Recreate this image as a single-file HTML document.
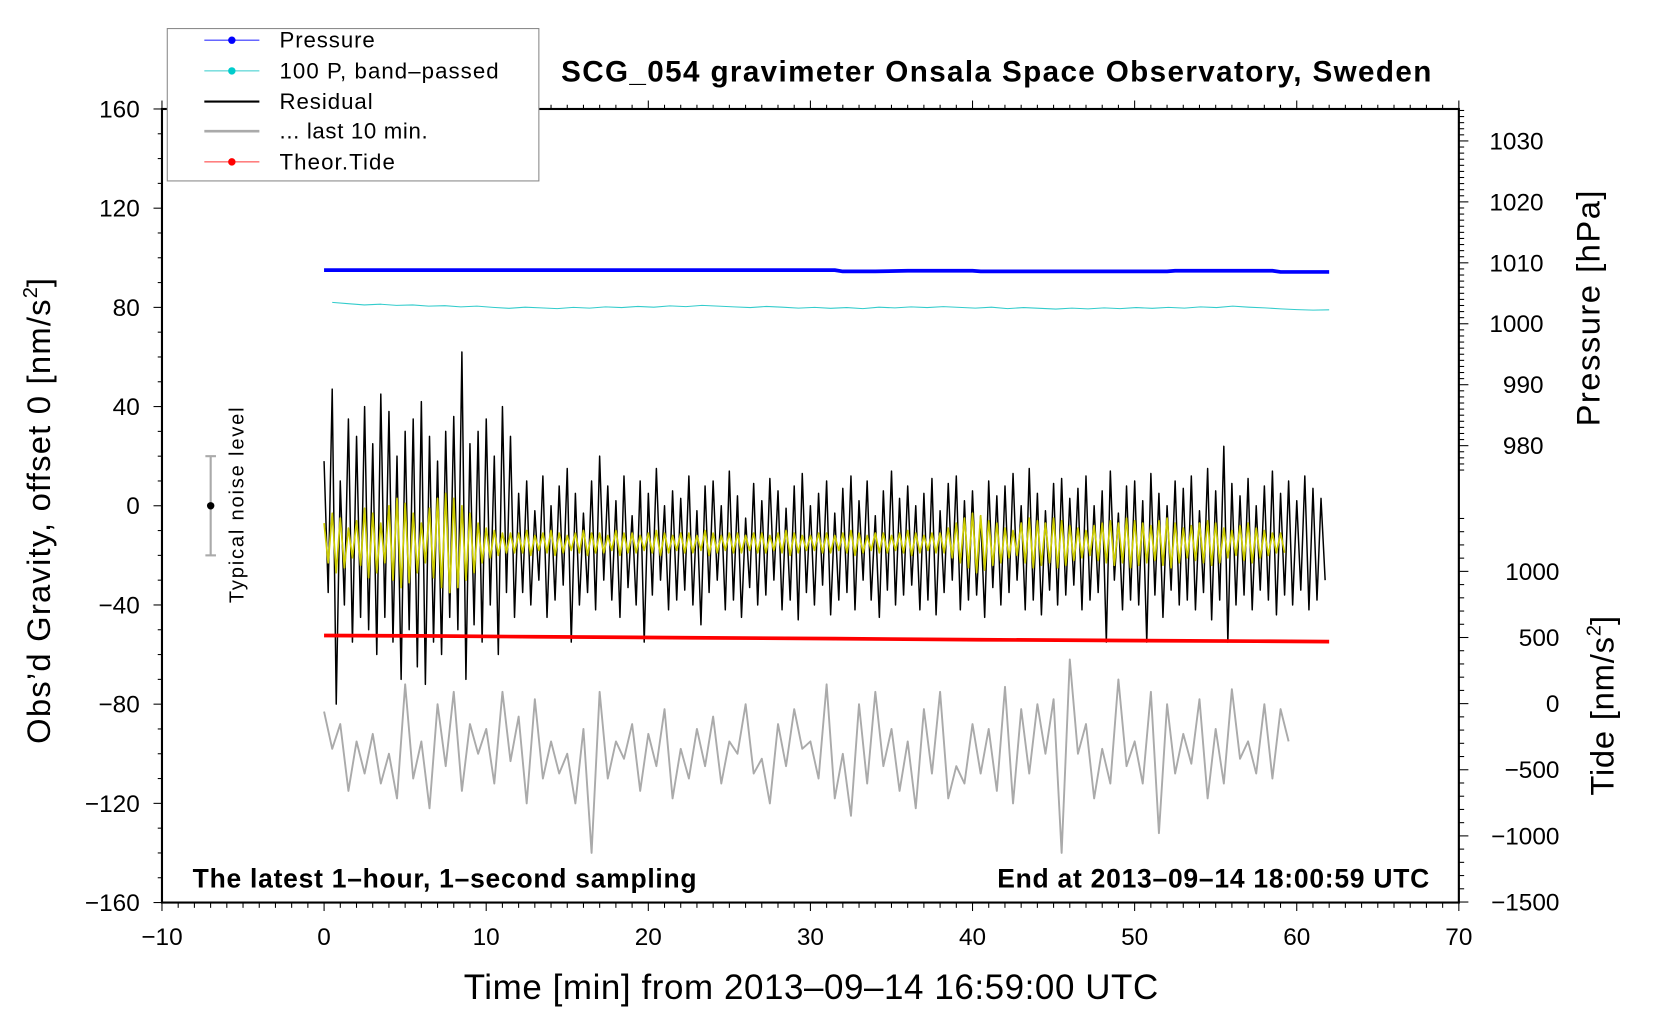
<!DOCTYPE html>
<html><head><meta charset="utf-8"><style>
html,body{margin:0;padding:0;background:#fff;}
svg{display:block;font-family:"Liberation Sans",sans-serif;}
</style></head><body>
<svg id="chart" width="1660" height="1020" viewBox="0 0 1568 964" preserveAspectRatio="none" xmlns="http://www.w3.org/2000/svg">
<rect x="0" y="0" width="1568" height="964" fill="#fff"/>
<g id="marks"></g>
<g id="axes"></g>
<g>
<rect x="158" y="27" width="351" height="144" fill="#fff" stroke="#888" stroke-width="1"/>
<line x1="193" y1="38" x2="245" y2="38" stroke="#3333ff" stroke-width="1"/><circle cx="219" cy="38" r="3.5" fill="#0000ff"/>
<text x="264" y="45" font-size="21" textLength="90">Pressure</text>
<line x1="193" y1="67" x2="245" y2="67" stroke="#33cccc" stroke-width="1"/><circle cx="219" cy="67" r="3.5" fill="#00cccc"/>
<text x="264" y="74" font-size="21" textLength="207">100 P, band–passed</text>
<line x1="193" y1="96" x2="245" y2="96" stroke="#000" stroke-width="2"/>
<text x="264" y="103" font-size="21" textLength="88">Residual</text>
<line x1="193" y1="124" x2="245" y2="124" stroke="#aaa" stroke-width="2.5"/>
<text x="264" y="131" font-size="21" textLength="140">... last 10 min.</text>
<line x1="193" y1="153" x2="245" y2="153" stroke="#ff3333" stroke-width="1"/><circle cx="219" cy="153" r="3.5" fill="#ff0000"/>
<text x="264" y="160" font-size="21" textLength="109">Theor.Tide</text>
</g>
<text x="530" y="77" font-size="28" font-weight="bold" textLength="822">SCG_054 gravimeter Onsala Space Observatory, Sweden</text>
<text x="182" y="839" font-size="25" font-weight="bold" textLength="476">The latest 1–hour, 1–second sampling</text>
<text x="942" y="839" font-size="25" font-weight="bold" textLength="408">End at 2013–09–14 18:00:59 UTC</text>
<text x="438" y="944" font-size="33" textLength="656">Time [min] from 2013–09–14 16:59:00 UTC</text>
<text transform="translate(47,703) rotate(-90)" font-size="31"><tspan textLength="420">Obs’d Gravity, offset 0 [nm/s</tspan><tspan font-size="19" dy="-12">2</tspan><tspan dy="12">]</tspan></text>
<text transform="translate(1511,403) rotate(-90)" font-size="31" textLength="223">Pressure [hPa]</text>
<text transform="translate(1524,752) rotate(-90)" font-size="31"><tspan textLength="150">Tide [nm/s</tspan><tspan font-size="19" dy="-12">2</tspan><tspan dy="12">]</tspan></text>
<g>
<line id="nbar" stroke="#aaa" stroke-width="2"/>
<line id="ncap1" stroke="#aaa" stroke-width="2"/>
<line id="ncap2" stroke="#aaa" stroke-width="2"/>
<circle id="ndot" r="3.5" fill="#000"/>
<text transform="translate(230,570) rotate(-90)" font-size="19" textLength="185">Typical noise level</text>
</g>
</svg>
<script>
const xTicks=[-10,0,10,20,30,40,50,60,70];
const yTicks=[160,120,80,40,0,-40,-80,-120,-160];
const pTicks=[1030,1020,1010,1000,990,980];
const tTicks=[1000,500,0,-500,-1000,-1500];
const pressureT=[0,4,8,12,16,20,24,28,31.5,32,34,36,38,40,40.5,44,48,52,52.5,56,58.5,59,62];
const pressureV=[1008.8,1008.8,1008.8,1008.8,1008.8,1008.8,1008.8,1008.8,1008.8,1008.6,1008.6,1008.7,1008.7,1008.7,1008.6,1008.6,1008.6,1008.6,1008.7,1008.7,1008.7,1008.5,1008.5];
const bandV=[82,81.5,81,81.3,80.8,81,80.5,80.7,80.2,80.5,80,79.6,80.1,79.8,79.5,80,79.7,80.2,79.9,80.4,80.1,80.6,80.3,80.8,80.5,80.2,79.9,80.4,80.1,79.7,80,79.6,79.9,79.5,80.1,79.8,80.2,79.9,80.3,80,79.7,80.1,79.5,79.9,79.6,79.3,79.7,79.4,79.8,79.5,79.9,79.6,80,79.7,80.2,79.9,80.5,80.1,79.8,79.4,79.1,78.9,79.0];
const tideT=[0,6,13,22.5,31.5,40.5,49,57.5,62];
const tideV=[-52.3,-52.5,-52.8,-53.2,-53.6,-54.0,-54.3,-54.6,-54.8];
const resHi=[18,47,10,35,28,40,25,45,38,20,30,35,42,28,18,30,36,62,25,30,35,20,40,28,
5,10,-2,12,0,8,15,5,-3,10,20,8,2,12,-4,10,5,15,0,6,3,12,-2,8,10,0,14,4,-5,9,2,11,6,-1,8,13,0,5,10,-3,7,12,2,10,-4,6,14,3,8,0,5,11,-2,9,12,2,6,-4,10,4,8,13,0,15,5,-2,9,11,3,7,12,0,6,14,-3,8,10,2,13,5,0,10,7,12,-2,15,6,24,9,4,11,0,8,14,5,10,2,12,7,3];
const resLo=[-35,-80,-40,-55,-45,-50,-60,-45,-55,-70,-50,-65,-72,-55,-60,-45,-50,-70,-48,-55,-40,-60,-35,-45,
-35,-40,-30,-45,-38,-32,-55,-40,-35,-42,-30,-38,-45,-33,-40,-55,-36,-30,-42,-38,-34,-40,-48,-35,-30,-42,-38,-45,-33,-40,-36,-30,-42,-38,-46,-35,-40,-32,-44,-38,-35,-42,-30,-38,-45,-34,-40,-36,-32,-42,-38,-44,-35,-30,-42,-38,-36,-45,-33,-40,-35,-30,-42,-38,-44,-34,-40,-36,-32,-42,-38,-35,-55,-30,-42,-38,-40,-55,-36,-45,-34,-40,-38,-42,-35,-46,-38,-55,-40,-36,-42,-34,-38,-44,-36,-40,-34,-42,-38,-30];
const yelAmp=[8,12,10,6,9,14,12,8,15,18,16,12,8,14,18,20,18,15,12,8,6,5,4,4,
4,5,3,4,5,4,3,4,5,4,4,3,5,4,4,3,4,5,4,3,4,4,3,5,4,3,4,4,3,4,4,3,4,5,4,3,3,4,4,3,4,5,4,3,4,4,3,4,5,4,3,4,4,6,8,10,12,11,9,8,6,5,8,10,9,8,10,9,7,6,5,7,8,9,8,10,9,8,7,9,10,8,6,7,8,9,8,6,5,7,8,6,5,4,4];
const grayV=[-83,-98,-88,-115,-95,-108,-92,-112,-100,-118,-72,-110,-95,-122,-80,-105,-75,-115,-88,-100,-90,-112,-75,-103,-85,-120,-78,-110,-95,-108,-100,-120,-90,-140,-75,-110,-95,-102,-88,-115,-92,-105,-82,-118,-98,-110,-90,-105,-85,-112,-95,-100,-80,-108,-102,-120,-88,-105,-82,-98,-95,-110,-72,-118,-100,-125,-80,-112,-75,-105,-90,-115,-95,-122,-82,-108,-75,-118,-105,-112,-88,-108,-90,-115,-73,-120,-82,-108,-80,-100,-78,-140,-62,-100,-88,-118,-98,-112,-70,-105,-95,-112,-75,-132,-80,-108,-92,-104,-78,-118,-90,-112,-74,-102,-95,-108,-80,-110,-82,-95];

const L=153,R=1378,T=103,B=853;
const xs=v=>L+(v+10)/80*(R-L);
const ys=v=>T+(160-v)/320*(B-T);
const ps=v=>306-(v-1000)*5.76;
const ts=v=>665-v*0.125;
const NS='http://www.w3.org/2000/svg';
const marks=document.getElementById('marks'), axes=document.getElementById('axes');
function mk(parent,tag,attrs){const e=document.createElementNS(NS,tag);for(const k in attrs)e.setAttribute(k,attrs[k]);parent.appendChild(e);return e;}
function poly(pts,color,w,name){const e=mk(marks,'polyline',{points:pts.map(p=>p[0].toFixed(1)+','+p[1].toFixed(1)).join(' '),fill:'none',stroke:color,'stroke-width':w,'stroke-linejoin':'round'});

}

let g=[];grayV.forEach((v,i)=>g.push([xs(i*0.5),ys(v)]));poly(g,'#aaaaaa',1.8,'last-10-min-line');
let r=[];const n=Math.min(resHi.length,resLo.length);for(let i=0;i<n;i++){r.push([xs(i*0.5),ys(resHi[i])]);r.push([xs(i*0.5+0.25),ys(resLo[i])]);}
poly(r,'#000',1.4,'residual-line');
let y=[];yelAmp.forEach((a,i)=>{y.push([xs(i*0.5),ys(-15+a)]);y.push([xs(i*0.5+0.25),ys(-15-a)]);});poly(y,'#cccc00',1.6,'residual-filtered-line');
poly(tideT.map((t,i)=>[xs(t),ys(tideV[i])]),'#ff0000',3.5,'theor-tide-line');
poly(pressureT.map((t,i)=>[xs(t),ps(pressureV[i])]),'#0000ff',3.5,'pressure-line');
poly(bandV.map((v,i)=>[xs(0.5+i*(61.5/(bandV.length-1))),ys(v)]),'#33cccc',1,'band-passed-pressure-line');

const fr=mk(axes,'rect',{x:L,y:T,width:R-L,height:B-T,fill:'none',stroke:'#000','stroke-width':2});


for(let m=-10;m<=70;m++){const major=m%10===0;const x=xs(m);
mk(axes,'line',{x1:x,y1:B,x2:x,y2:B+(major?8:5),stroke:'#000','stroke-width':1});
mk(axes,'line',{x1:x,y1:T,x2:x,y2:T-(major?8:4),stroke:'#000','stroke-width':1});}
xTicks.forEach(v=>{const t=mk(axes,'text',{x:xs(v),y:893,'font-size':23,'text-anchor':'middle'});t.textContent=(v<0?'−':'')+Math.abs(v);

});
for(let v=-160;v<=160;v+=10){const major=v%40===0;mk(axes,'line',{x1:L,y1:ys(v),x2:L-(major?8:4),y2:ys(v),stroke:'#000','stroke-width':1});}
yTicks.forEach(v=>{const t=mk(axes,'text',{x:132,y:ys(v)+8,'font-size':23,'text-anchor':'end'});t.textContent=(v<0?'−':'')+Math.abs(v);

});
for(let p=976;p<=1035;p++){const major=p%10===0;mk(axes,'line',{x1:R,y1:ps(p),x2:R+(major?9:5),y2:ps(p),stroke:'#000','stroke-width':1});}
pTicks.forEach(v=>{const t=mk(axes,'text',{x:1458,y:ps(v)+8,'font-size':23,'text-anchor':'end'});t.textContent=v;

});
for(let v=-1500;v<=1400;v+=100){const major=v%500===0;mk(axes,'line',{x1:R,y1:ts(v),x2:R+(major?9:5),y2:ts(v),stroke:'#000','stroke-width':1});}
tTicks.forEach(v=>{const t=mk(axes,'text',{x:1473,y:ts(v)+8,'font-size':23,'text-anchor':'end'});t.textContent=(v<0?'−':'')+Math.abs(v);

});
const nb=document.getElementById('nbar');nb.setAttribute('x1',199);nb.setAttribute('x2',199);nb.setAttribute('y1',ys(20));nb.setAttribute('y2',ys(-20));
const c1=document.getElementById('ncap1');c1.setAttribute('x1',194);c1.setAttribute('x2',204);c1.setAttribute('y1',ys(20));c1.setAttribute('y2',ys(20));
const c2=document.getElementById('ncap2');c2.setAttribute('x1',194);c2.setAttribute('x2',204);c2.setAttribute('y1',ys(-20));c2.setAttribute('y2',ys(-20));
const nd=document.getElementById('ndot');nd.setAttribute('cx',199);nd.setAttribute('cy',ys(0));
</script>
</body></html>
